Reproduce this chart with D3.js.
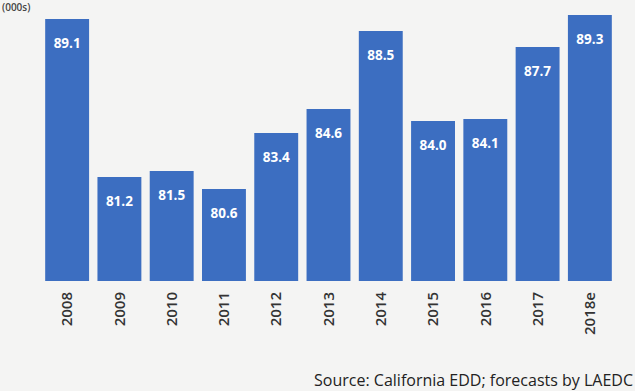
<!DOCTYPE html>
<html>
<head>
<meta charset="utf-8">
<script src="https://cdn.jsdelivr.net/npm/d3@7"></script>
<style>
  html, body { margin: 0; padding: 0; background: #f4f4f3; }
  svg { display: block; }
</style>
</head>
<body>
<svg id="chart" width="635" height="391"></svg>
<script>
// Annual values (thousands), 2018 is a forecast
const years = ["2008", "2009", "2010", "2011", "2012", "2013", "2014", "2015", "2016", "2017", "2018e"];
const values = [89.1, 81.2, 81.5, 80.6, 83.4, 84.6, 88.5, 84.0, 84.1, 87.7, 89.3];
const valueDomain = [76, 90];
const unitLabel = "(000s)";
const sourceNote = "Source: California EDD; forecasts by LAEDC";

const svg = d3.select("#chart");

const x = d3.scaleBand()
  .domain(years)
  .range([41, 616])
  .paddingInner(0.16)
  .paddingOuter(0.08);

const y = d3.scaleLinear()
  .domain(valueDomain)
  .range([281, 1]);

// unit label in the top-left corner
svg.append("text")
  .attr("x", 2)
  .attr("y", 11)
  .attr("font-family", "Open Sans, sans-serif")
  .attr("font-size", 10)
  .attr("font-weight", 600)
  .attr("fill", "#444")
  .text(unitLabel);

svg.append("g").selectAll("rect")
  .data(values)
  .join("rect")
  .attr("x", (d, i) => x(years[i]))
  .attr("y", d => y(d))
  .attr("width", x.bandwidth())
  .attr("height", d => y(valueDomain[0]) - y(d))
  .attr("fill", "#3c6ec1");

// value labels inside the bar tops
svg.append("g").selectAll("text")
  .data(values)
  .join("text")
  .attr("x", (d, i) => x(years[i]) + x.bandwidth() / 2)
  .attr("y", d => y(d) + 29)
  .attr("text-anchor", "middle")
  .attr("font-family", "Open Sans, sans-serif")
  .attr("font-size", 13.5)
  .attr("font-weight", 700)
  .attr("fill", "#ffffff")
  .text(d => d.toFixed(1));

// rotated category axis
const xAxis = d3.axisBottom(x).tickSize(0).tickPadding(0);
const gx = svg.append("g")
  .attr("transform", `translate(0,${y(valueDomain[0])})`)
  .call(xAxis);
gx.select(".domain").remove();
gx.selectAll("text")
  .attr("transform", "rotate(-90)")
  .attr("x", -11)
  .attr("y", 0)
  .attr("dy", "0.35em")
  .attr("text-anchor", "end")
  .attr("font-family", "Open Sans, sans-serif")
  .attr("font-size", 15)
  .attr("font-weight", 600)
  .attr("fill", "#333");

svg.append("text")
  .attr("x", 633)
  .attr("y", 386)
  .attr("text-anchor", "end")
  .attr("font-family", "Open Sans, sans-serif")
  .attr("font-size", 16)
  .attr("fill", "#222")
  .text(sourceNote);
</script>
</body>
</html>
